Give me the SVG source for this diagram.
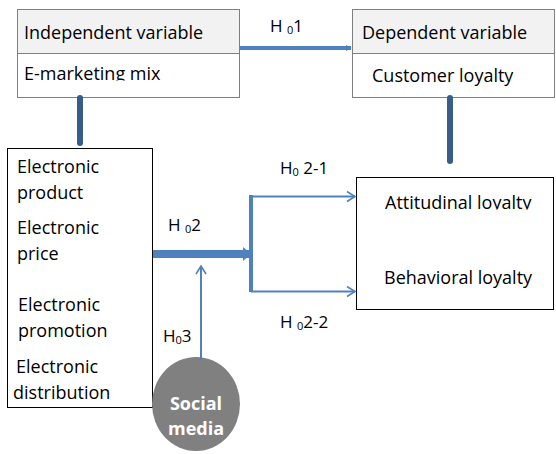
<svg xmlns="http://www.w3.org/2000/svg" width="556" height="454" viewBox="0 0 556 454">
<style>
.t{font-family:"Open Sans","Liberation Sans",sans-serif;font-size:18px;fill:#000}
.l{font-family:"Open Sans","Liberation Sans",sans-serif;font-size:17px;fill:#000}
.s{font-size:11px}
.w{font-family:"Open Sans","Liberation Sans",sans-serif;font-size:18px;font-weight:bold;fill:#fff;text-anchor:middle}
.lt{fill:none;stroke:#4f81bd}
.dk{fill:none;stroke:#385d8a;stroke-width:6;stroke-linecap:round}
</style>
<defs>
<marker id="fa" markerWidth="6" markerHeight="6" refX="5" refY="3" orient="auto" markerUnits="userSpaceOnUse">
<path d="M0,0 L6,3 L0,6 Z" fill="#4f81bd"/>
</marker>
<marker id="ch" markerWidth="12" markerHeight="12" refX="10" refY="6" orient="auto" markerUnits="userSpaceOnUse">
<path d="M2,1 L10,6 L2,11" fill="none" stroke="#4f81bd" stroke-width="1.6"/>
</marker>
<clipPath id="c1"><rect x="17" y="53" width="222" height="27.5"/></clipPath>
<clipPath id="c2"><rect x="357" y="178" width="199" height="31.5"/></clipPath>
</defs>
<g id="independent">
<rect x="17.5" y="9.5" width="222" height="44" fill="#f2f2f2" stroke="#7f7f7f"/>
<rect x="17.5" y="53.5" width="222" height="44" fill="#fff" stroke="#7f7f7f"/>
<text class="t" x="24" y="39">Independent variable</text>
<text class="t" x="24" y="79.5" clip-path="url(#c1)">E-marketing mix</text>
</g>
<g id="dependent">
<rect x="352.5" y="9.5" width="202" height="44" fill="#f2f2f2" stroke="#7f7f7f"/>
<rect x="352.5" y="53.5" width="202" height="44" fill="#fff" stroke="#7f7f7f"/>
<text class="t" x="362" y="39">Dependent variable</text>
<text class="t" x="372" y="82">Customer loyalty</text>
</g>
<g id="mix">
<rect x="7.5" y="148.5" width="145" height="259" fill="#fff" stroke="#000"/>
<text class="t" x="17" y="173">Electronic</text>
<text class="t" x="17" y="199">product</text>
<text class="t" x="17" y="234">Electronic</text>
<text class="t" x="17" y="260">price</text>
<text class="t" x="18" y="311">Electronic</text>
<text class="t" x="18" y="337">promotion</text>
<text class="t" x="16" y="373">Electronic</text>
<text class="t" x="13" y="399">distribution</text>
</g>
<g id="loyalty">
<rect x="356.5" y="177.5" width="197" height="132" fill="#fff" stroke="#000"/>
<text class="t" x="385" y="208.5" clip-path="url(#c2)">Attitudinal loyalty</text>
<text class="t" x="384" y="284">Behavioral loyalty</text>
</g>
<g id="social">
<ellipse cx="196" cy="404" rx="44" ry="47" fill="#808080"/>
<text class="w" x="196" y="410">Social</text>
<text class="w" x="196" y="435">media</text>
</g>
<g id="connectors">
<line class="lt" x1="240" y1="48" x2="351" y2="48" stroke-width="4" marker-end="url(#fa)"/>
<line class="dk" x1="80" y1="98" x2="80" y2="143"/>
<line class="dk" x1="450" y1="98" x2="450" y2="161"/>
<line class="lt" x1="153" y1="254" x2="250" y2="254" stroke-width="8"/>
<path d="M243,247 L251,254 L243,261 Z" fill="#4f81bd"/>
<line class="lt" x1="251" y1="195" x2="251" y2="292" stroke-width="4"/>
<line class="lt" x1="251" y1="196.5" x2="355" y2="196.5" stroke-width="2" marker-end="url(#ch)"/>
<line class="lt" x1="251" y1="291.5" x2="355" y2="291.5" stroke-width="2" marker-end="url(#ch)"/>
<line class="lt" x1="201" y1="360" x2="201" y2="266" stroke-width="2" marker-end="url(#ch)"/>
</g>
<g id="labels">
<text class="l" x="270" y="32">H <tspan class="s" dy="2">0</tspan><tspan dy="-2">1</tspan></text>
<text class="l" x="168" y="231">H <tspan class="s" dy="2">0</tspan><tspan dy="-2">2</tspan></text>
<text class="l" x="163" y="342">H<tspan class="s" dy="2">0</tspan><tspan dy="-2">3</tspan></text>
<text class="l" x="280" y="174">H<tspan class="s" dy="2">0</tspan><tspan dy="-2"> 2-1</tspan></text>
<text class="l" x="280" y="328">H <tspan class="s" dy="2">0</tspan><tspan dy="-2">2-2</tspan></text>
</g>
</svg>
